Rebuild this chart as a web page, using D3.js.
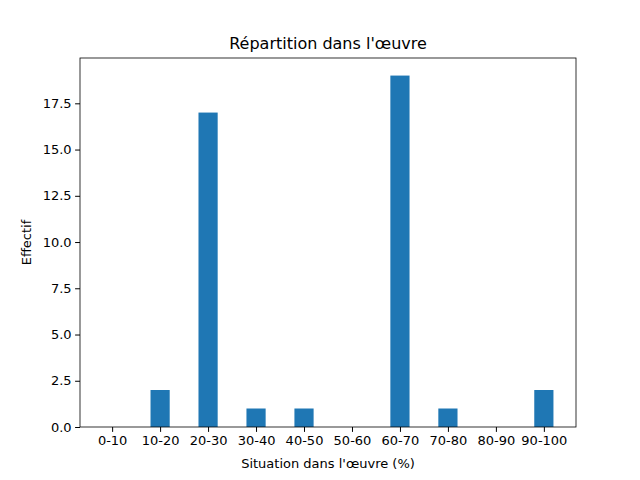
<!DOCTYPE html>
<html><head><meta charset="utf-8">
<script src="https://cdn.jsdelivr.net/npm/d3@7"></script>
<style>body{margin:0;background:#fff}text{font-family:"DejaVu Sans",sans-serif}</style>
</head><body><svg id="c" width="640" height="480"></svg>
<script>
const categories=["0-10","10-20","20-30","30-40","40-50","50-60","60-70","70-80","80-90","90-100"];
const values=[0,2,17,1,1,0,19,1,0,2];
const yTicks=[0,2.5,5,7.5,10,12.5,15,17.5];
const svg=d3.select("#c");
const L=80,R=576,T=58,B=427;
const x=d3.scaleLinear().domain([-0.67,9.67]).range([L,R]);
const y=d3.scaleLinear().domain([0,19.95]).range([B,T]);
svg.selectAll("rect.b").data(values).enter().append("rect")
 .attr("x",(d,i)=>x(i-0.2)).attr("width",x(0.4)-x(0))
 .attr("y",d=>y(d)).attr("height",d=>B-y(d)).attr("fill","#1f77b4");
const gx=svg.append("g").attr("transform",`translate(0,${B})`)
 .call(d3.axisBottom(x).tickValues(d3.range(10)).tickFormat(i=>categories[i]).tickSize(4.9).tickPadding(3.5));
const gy=svg.append("g").attr("transform",`translate(${L},0)`)
 .call(d3.axisLeft(y).tickValues(yTicks).tickFormat(d3.format(".1f")).tickSize(4.9).tickPadding(3.5));
[gx,gy].forEach(g=>{g.select(".domain").remove();g.selectAll("text").attr("font-size",13).attr("fill","#000");g.selectAll("line").attr("stroke","#000");});
svg.append("rect").attr("x",L).attr("y",T).attr("width",R-L).attr("height",B-T).attr("fill","none").attr("stroke","#000").attr("stroke-width",0.8);
svg.append("text").attr("x",(L+R)/2).attr("y",49).attr("text-anchor","middle").attr("font-size",16).text("Répartition dans l'œuvre");
svg.append("text").attr("x",(L+R)/2).attr("y",468).attr("text-anchor","middle").attr("font-size",13).text("Situation dans l'œuvre (%)");
svg.append("text").attr("transform",`translate(31,${(T+B)/2}) rotate(-90)`).attr("text-anchor","middle").attr("font-size",13).text("Effectif");
</script></body></html>
